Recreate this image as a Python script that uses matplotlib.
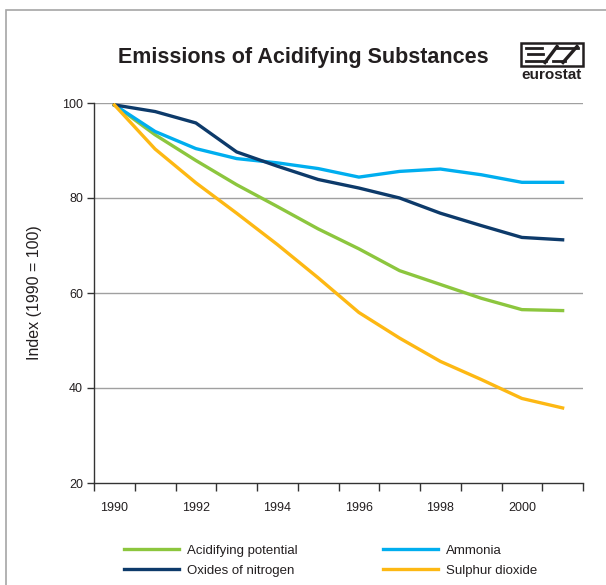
import numpy as np
import matplotlib
matplotlib.use('Agg')
import matplotlib.pyplot as plt
from matplotlib.patches import Rectangle, Polygon

plt.rcParams['font.family'] = ['Liberation Sans', 'DejaVu Sans']

# data
years = ['1990', '1991', '1992', '1993', '1994', '1995',
         '1996', '1997', '1998', '1999', '2000', '2001']
acidifying = [99.6, 93.3, 87.9, 82.8, 78.2, 73.5, 69.3, 64.7, 61.8, 58.9, 56.5, 56.3]
ammonia = [99.6, 94.0, 90.4, 88.3, 87.4, 86.2, 84.4, 85.6, 86.1, 84.9, 83.3, 83.3]
nitrogen = [99.6, 98.2, 95.8, 89.7, 86.7, 83.9, 82.1, 80.0, 76.8, 74.2, 71.7, 71.2]
sulphur = [99.6, 90.3, 83.2, 76.8, 70.2, 63.2, 55.9, 50.5, 45.6, 41.8, 37.8, 35.8]

GREEN = '#8cc63e'
BLUE = '#00aeef'
NAVY = '#0d3a6a'
ORANGE = '#fdb813'
TXT = '#231f20'

fig = plt.figure(figsize=(6.06, 5.85), dpi=100)


def px(xp, yp):
    # pixel position (from top-left) -> figure fraction
    return (xp / 606, 1 - yp / 585)


# grey frame round the chart (runs off the right and bottom edge)
fig.patches.append(Rectangle((6 / 606, -0.1), 1.0, 1 - 10 / 585 + 0.1,
                             transform=fig.transFigure, fill=False,
                             edgecolor='#a6a6a6', linewidth=1.2))

ax = fig.add_axes([94 / 606, 1 - 483 / 585, (583 - 94) / 606, (483 - 103) / 585])

x = np.arange(len(years))
lw = 2.4
l_acid, = ax.plot(x, acidifying, color=GREEN, lw=lw, label='Acidifying potential')
l_amm, = ax.plot(x, ammonia, color=BLUE, lw=lw, label='Ammonia')
l_nox, = ax.plot(x, nitrogen, color=NAVY, lw=lw, label='Oxides of nitrogen')
l_so2, = ax.plot(x, sulphur, color=ORANGE, lw=lw, label='Sulphur dioxide')

ax.set_xlim(-0.5, len(years) - 0.5)
ax.set_ylim(20, 100)

# horizontal grid
for yv in [40, 60, 80, 100]:
    ax.axhline(yv, color='#a0a0a0', lw=1.0, zorder=0)

for s in ['top', 'right']:
    ax.spines[s].set_visible(False)
for s in ['left', 'bottom']:
    ax.spines[s].set_color('#333333')
    ax.spines[s].set_linewidth(1.0)

ax.set_yticks([20, 40, 60, 80, 100])
ax.tick_params(axis='y', direction='out', length=5, width=1, color='#333333',
               labelsize=9, labelcolor=TXT, pad=3)

# x ticks between years, labels on every other year
ax.set_xticks(np.arange(-0.5, len(years), 1.0))
ax.set_xticklabels([])
ax.tick_params(axis='x', which='major', direction='out', length=6, width=1,
               color='#333333')
ax.set_xticks(x[::2], minor=True)
ax.set_xticklabels(years[::2], minor=True)
ax.tick_params(axis='x', which='minor', length=0, labelsize=9,
               labelcolor=TXT, pad=14)

ax.set_ylabel('Index (1990 = 100)', fontsize=11.5, color=TXT, labelpad=14)

fig.text(0.5, 1 - 58 / 585, 'Emissions of Acidifying Substances',
         ha='center', va='center', fontsize=15.5, fontweight='bold', color=TXT)

# eurostat logo (approximation)
x0, y0 = px(521, 66)
x1, y1 = px(583, 43)
fig.patches.append(Rectangle((x0, y0), x1 - x0, y1 - y0,
                             transform=fig.transFigure, fill=False,
                             edgecolor=TXT, linewidth=1.8))
bars = [((526, 47.5), (542, 47.5)), ((528, 54), (543, 54)),
        ((526, 61), (546, 61)), ((557, 47.5), (578, 47.5)),
        ((553, 61), (565, 61))]
for a, b in bars:
    fig.lines.append(plt.Line2D([px(*a)[0], px(*b)[0]], [px(*a)[1], px(*b)[1]],
                                transform=fig.transFigure, color=TXT, lw=2.0))
for a, b in [((545, 62.5), (557, 46.5)), ((563, 62.5), (577, 46.5))]:
    fig.lines.append(plt.Line2D([px(*a)[0], px(*b)[0]], [px(*a)[1], px(*b)[1]],
                                transform=fig.transFigure, color=TXT, lw=2.4))
fig.text(px(552, 75)[0], px(552, 75)[1], 'eurostat', ha='center', va='center',
         fontsize=11, fontweight='bold', color=TXT)

fig.legend(handles=[l_acid, l_nox, l_amm, l_so2], ncol=2,
           loc='upper left', bbox_to_anchor=(112 / 606, 1 - 533 / 585),
           frameon=False, fontsize=9.5, handlelength=4.2, handletextpad=0.55,
           labelspacing=0.55, columnspacing=6.5, labelcolor=TXT)

fig.savefig('out.png', dpi=100)
